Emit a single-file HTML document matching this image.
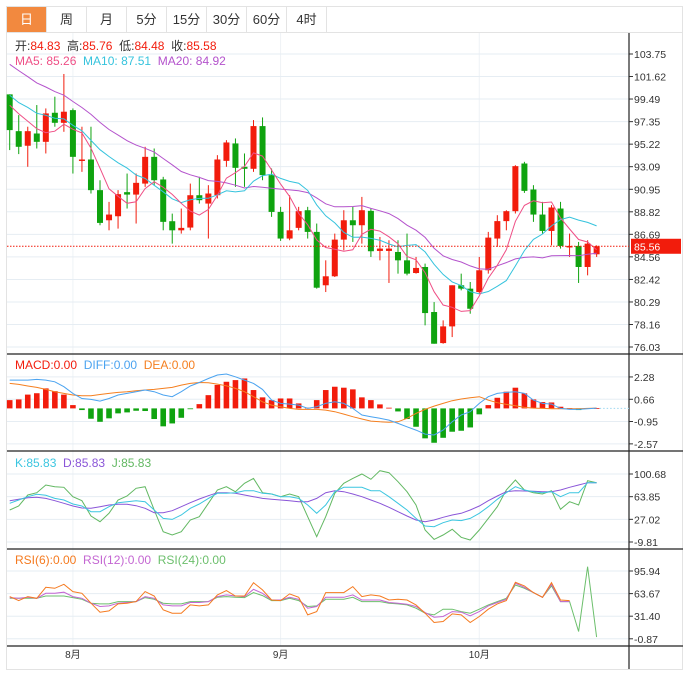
<!DOCTYPE html>
<html><head><meta charset="utf-8">
<style>
body{margin:0;background:#fff;width:689px;height:682px;overflow:hidden;font-family:"Liberation Sans","Noto Sans CJK SC",sans-serif;}
#tabs{position:absolute;left:6px;top:6px;height:26px;width:677px;border:1px solid #e3e3e3;border-bottom:none;box-sizing:border-box;display:flex;}
.tab{width:40px;height:26px;line-height:26px;text-align:center;font-size:13px;color:#333;border-right:1px solid #e3e3e3;box-sizing:border-box;}
.tab.on{background:#f2893f;color:#fff;}
svg{position:absolute;left:0;top:0;}
</style></head><body>
<div id="tabs">
<div class="tab on">日</div>
<div class="tab">周</div>
<div class="tab">月</div>
<div class="tab">5分</div>
<div class="tab">15分</div>
<div class="tab">30分</div>
<div class="tab">60分</div>
<div class="tab">4时</div>
</div>
<svg id="c" width="689" height="682"></svg>
<script>
const priorCloses=[107,108,107,106,106,105,106,105,104,103,102,101,101,100,100,99,100,99,100];
const opens=[99.93,96.45,95.07,96.23,95.44,98.19,97.24,98.44,93.64,93.77,90.87,88.02,88.40,90.68,90.45,91.49,94.02,91.88,87.93,87.07,87.33,90.39,89.60,90.39,93.64,95.29,93.08,92.89,96.93,92.29,88.81,86.29,87.30,88.97,86.92,81.87,82.72,86.19,88.02,87.55,88.91,85.12,85.12,85.02,84.23,83.03,83.60,79.34,76.40,77.98,81.87,81.55,81.23,83.29,86.29,87.94,88.88,93.39,90.93,88.56,87.01,89.13,85.50,85.59,83.60,84.80];
const closes=[96.55,94.97,96.45,95.44,98.13,97.24,98.29,94.02,93.77,90.87,87.77,88.56,90.49,90.45,91.56,94.02,91.81,87.87,87.07,87.30,90.39,89.92,90.55,93.77,95.38,92.98,92.89,96.93,92.29,88.81,86.29,87.07,88.88,86.92,81.64,82.72,86.19,88.02,87.55,88.97,85.09,85.34,85.34,84.23,82.97,83.51,79.24,76.34,77.98,81.87,81.55,79.65,83.29,86.38,87.94,88.88,93.14,90.80,88.56,87.01,89.23,85.59,85.59,83.60,85.81,85.56];
const highs=[99.93,97.97,96.87,98.92,98.60,99.71,101.86,98.60,96.87,96.87,91.81,89.76,90.87,92.44,92.44,94.97,94.81,92.13,88.65,89.13,91.49,92.13,91.34,94.18,95.60,95.76,94.34,97.50,97.75,92.92,89.29,90.39,89.29,89.29,87.71,84.23,86.76,88.97,89.29,90.23,89.13,86.44,86.13,86.13,86.76,84.55,83.92,80.28,78.55,81.87,82.97,82.18,84.55,86.92,88.50,88.97,93.23,93.55,91.34,89.76,89.45,89.76,86.76,85.97,86.13,85.65];
const lows=[94.66,94.28,93.08,94.81,94.34,96.87,96.39,92.44,92.60,90.55,87.55,87.07,87.23,89.13,87.71,91.18,91.34,87.07,85.81,86.76,87.07,89.60,86.29,90.08,93.08,91.18,91.18,92.60,91.81,88.34,86.07,86.13,87.07,86.29,81.55,81.23,82.65,85.18,85.97,85.81,84.55,84.23,82.09,82.97,82.81,82.97,78.08,76.34,76.34,76.97,81.39,79.18,81.07,82.97,85.50,87.07,88.66,90.61,87.87,86.76,85.65,85.34,84.55,82.09,82.81,84.55];
const priceTicks=[103.75,101.62,99.49,97.35,95.22,93.09,90.95,88.82,86.69,84.56,82.42,80.29,78.16,76.03];
const macdHist=[0.6,0.65,1.0,1.1,1.45,1.25,1.0,0.24,-0.12,-0.75,-0.97,-0.72,-0.36,-0.29,-0.17,-0.19,-0.77,-1.3,-1.09,-0.68,-0.05,0.31,0.96,1.7,1.93,2.05,2.17,1.33,0.8,0.6,0.72,0.72,0.36,0.05,0.6,1.33,1.57,1.5,1.38,0.8,0.6,0.29,0.05,-0.22,-0.77,-1.33,-2.17,-2.49,-2.13,-1.69,-1.62,-1.38,-0.43,0.24,0.77,1.21,1.5,1.09,0.65,0.46,0.43,0.12,0.02,-0.12,0.02,0.02];
const diffLine=[2.05,2.05,2.05,2.10,2.05,1.93,1.57,1.09,0.72,0.65,0.53,0.72,0.97,1.09,1.21,1.33,1.21,0.97,0.85,1.21,1.62,1.88,2.17,2.42,2.49,2.29,2.05,1.81,1.38,0.6,0.36,0.31,0.24,0,0.12,0.36,0.48,0.36,0,-0.48,-0.6,-0.72,-0.85,-1.09,-1.33,-1.57,-1.86,-1.93,-1.57,-0.97,-0.48,-0.24,0.36,0.85,1.09,1.16,1.21,1.09,0.6,0.36,0.31,0,-0.07,-0.07,-0.02,0.02];
const deaLine=[1.81,1.74,1.62,1.52,1.38,1.21,1.09,0.97,0.92,0.92,1.01,1.09,1.16,1.21,1.28,1.33,1.38,1.45,1.52,1.69,1.81,1.88,1.86,1.76,1.64,1.45,1.21,0.85,0.48,0.24,0.12,0,-0.07,-0.07,-0.07,-0.12,-0.24,-0.41,-0.6,-0.77,-0.92,-0.97,-1.01,-0.97,-0.72,-0.36,-0.07,0.17,0.36,0.56,0.68,0.77,0.85,0.6,0.41,0.29,0.19,0.07,0.02,0,-0.02,-0.02,-0.02,-0.02,0,0.02];
const macdTicks=[2.28,0.66,-0.95,-2.57];
const kLine=[53.0,58.4,63.8,67.7,66.0,61.1,58.4,51.9,48.7,39.5,39.5,47.6,54.1,55.7,57.3,55.7,42.2,28.6,27.0,34.1,44.9,51.9,61.1,69.3,69.3,70.3,73.6,73.6,69.3,68.2,63.8,63.8,61.1,50.3,36.8,50.3,72.0,79.0,79.0,79.0,73.6,73.6,63.8,53.0,42.2,28.6,16.2,15.1,21.6,25.9,24.9,28.6,36.8,47.6,59.5,70.3,80.1,74.7,72.0,70.3,72.0,63.8,70.3,70.3,86.6,86.6];
const dLine=[57.3,59.5,62.2,62.8,61.1,57.3,53.0,48.7,45.4,44.9,47.6,50.3,51.4,51.4,49.2,44.9,37.8,37.8,41.1,47.6,54.1,60.0,65.5,70.3,70.3,69.3,66.6,63.8,61.1,59.5,58.4,57.3,55.7,55.7,61.1,70.3,73.6,72.0,68.2,63.8,58.4,53.0,46.5,39.5,32.4,25.9,23.2,25.9,30.3,34.1,36.8,42.2,48.7,57.3,65.0,72.0,73.6,73.1,72.5,72.0,72.0,74.7,79.0,82.8,86.6,86.6];
const jLine=[42.2,48.7,66.6,70.3,82.8,80.1,79.0,63.8,57.3,32.4,23.2,36.8,58.4,65.0,77.4,80.1,42.2,7.0,1.6,7.0,25.9,31.3,53.0,74.7,80.1,72.0,85.5,93.6,70.3,68.2,63.8,68.2,63.8,31.3,-1.2,31.3,69.3,85.5,93.6,100.7,92.0,106.1,102.8,88.2,72.0,50.3,9.7,-5.5,1.6,10.8,-2.2,-6.6,9.7,28.6,47.6,74.7,91.0,74.7,70.3,68.2,73.6,43.3,55.7,50.3,89.8,86.6];
const kdjTicks=[100.68,63.85,27.02,-9.81];
const rsi6=[59.4,53.7,59.4,57.0,72.7,71.3,77.0,66.5,64.1,49.9,37.1,39.0,49.0,49.9,52.3,66.5,60.3,40.4,35.7,35.7,47.5,46.1,47.5,61.8,67.9,60.3,60.3,79.3,68.9,54.6,53.7,63.2,58.4,33.3,38.0,65.1,65.1,65.1,73.6,59.4,61.8,60.3,54.6,55.6,54.6,47.5,35.7,22.4,23.8,34.7,33.3,22.4,30.9,41.4,49.0,53.7,79.8,74.6,65.1,58.4,79.3,54.6,53.7,null,null,null];
const rsi12=[58.0,57.0,58.4,57.0,64.1,64.1,65.6,59.4,57.0,49.9,45.2,46.1,49.9,50.9,52.3,59.4,57.0,47.5,46.1,46.1,50.9,50.9,52.3,59.4,61.8,60.3,59.4,69.8,64.1,54.6,54.6,58.4,55.6,42.8,45.2,58.4,58.4,58.4,61.8,54.6,54.6,54.6,50.9,49.9,48.5,45.2,36.6,30.0,30.9,38.0,37.1,31.9,38.0,46.1,50.9,55.6,78.4,72.7,65.1,58.4,77.0,52.3,52.3,null,null,null];
const rsi24=[57.0,57.0,57.0,57.0,60.3,60.3,60.3,58.0,55.6,49.9,49.0,49.0,52.3,52.3,52.3,58.0,55.6,49.9,49.0,49.0,52.3,52.3,52.3,58.4,59.4,58.4,58.0,65.1,60.8,53.7,53.7,57.0,53.7,45.2,46.1,55.6,55.6,55.6,58.4,52.3,52.3,52.3,49.9,49.0,47.5,42.8,35.7,33.3,41.4,41.4,38.0,35.7,41.4,47.5,52.3,57.0,76.0,71.3,65.1,58.4,74.6,52.3,52.3,9.6,102.1,1.5];
const rsiTicks=[95.94,63.67,31.40,-0.87];
const monthLabels=["8月","9月","10月"];
const monthIdx=[7,30,52];

const NS="http://www.w3.org/2000/svg";
const svg=document.getElementById('c');
function mk(tag,attrs,parent){const e=document.createElementNS(NS,tag);for(const k in attrs)e.setAttribute(k,attrs[k]);(parent||svg).appendChild(e);return e;}
const X0=9.7,DX=9.03,L=7,R=629;
const xOf=i=>X0+i*DX;
const yP=v=>54+(103.75-v)*10.57;
const yM=v=>408.4-v*13.8;
const yK=v=>474+(100.68-v)*0.6155;
const yR=v=>571+(95.94-v)*0.7003;

let fr=mk('rect',{x:6.5,y:32.5,width:676,height:637,fill:'none',stroke:'#e3e3e3'});

monthIdx.forEach((mi,k)=>{
  let g=mk('line',{x1:xOf(mi),x2:xOf(mi),y1:33,y2:646,stroke:'#eef2f6'});
  
  let t=mk('text',{x:xOf(mi),y:658,'font-size':10,fill:'#333','text-anchor':'middle'});
  t.textContent=monthLabels[k];
  
});
function ticks(arr,yf,name){
  arr.forEach(v=>{
    let g=mk('line',{x1:L,x2:R,y1:yf(v),y2:yf(v),stroke:'#e6edf3'});
    
    mk('line',{x1:R,x2:R+4,y1:yf(v),y2:yf(v),stroke:'#333'});
    let t=mk('text',{x:634,y:yf(v)+4,'font-size':10.5,fill:'#333'});
    t.textContent=v.toFixed(2);
    
  });
}
ticks(priceTicks,yP,'price');ticks(macdTicks,yM,'macd');ticks(kdjTicks,yK,'kdj');ticks(rsiTicks,yR,'rsi');
[354,451,549,646].forEach(y=>{let l=mk('line',{x1:L,x2:683,y1:y,y2:y,stroke:'#222','stroke-width':1.2});
});
let ax=mk('line',{x1:R,x2:R,y1:33,y2:669,stroke:'#222','stroke-width':1.2});


function poly(arr,yf,color,name,w){
  let d='';arr.forEach((v,i)=>{if(v===null)return;d+=(d?'L':'M')+xOf(i).toFixed(1)+','+yf(v).toFixed(1);});
  let p=mk('path',{d:d,fill:'none',stroke:color,'stroke-width':w||1});
  
}
const allCloses=priorCloses.concat(closes);
function ma(n){const off=priorCloses.length;return closes.map((c,i)=>{let s=0,k=0;const e=i+off;for(let j=Math.max(0,e-n+1);j<=e;j++){s+=allCloses[j];k++;}return s/k;});}
const RED='#f21c0c',GRN='#0fa30f';
opens.forEach((o,i)=>{
  const c=closes[i],up=c>=o,col=up?RED:GRN,x=xOf(i);
  let w=mk('line',{x1:x,x2:x,y1:yP(highs[i]),y2:yP(lows[i]),stroke:col});
  
  const t=yP(Math.max(o,c)),b=yP(Math.min(o,c));
  let r=mk('rect',{x:x-3,y:t,width:6,height:Math.max(1.5,b-t),fill:col});
  
});
poly(ma(20),yP,'#b453cc','ma20-line');
poly(ma(10),yP,'#35c3dd','ma10-line');
poly(ma(5),yP,'#ef4f86','ma5-line');
const last=closes[closes.length-1];
let lp=mk('line',{x1:L,x2:R,y1:yP(last),y2:yP(last),stroke:'#f21c0c','stroke-dasharray':'1.5,1.5'});

let lb=mk('rect',{x:631,y:yP(last)-7.5,width:50,height:15,fill:'#f21c0c'});

let lt=mk('text',{x:634,y:yP(last)+4,'font-size':10.5,fill:'#fff'});lt.textContent=last.toFixed(2);


macdHist.forEach((v,i)=>{
  const y0=yM(0),y1=yM(v);
  let r=mk('rect',{x:xOf(i)-2.8,y:Math.min(y0,y1),width:5.6,height:Math.max(0.8,Math.abs(y1-y0)),fill:v>=0?RED:GRN});
  
});
mk('line',{x1:xOf(65)+3,x2:R,y1:yM(0),y2:yM(0),stroke:'#9fd8f0','stroke-dasharray':'1.5,2'});
poly(deaLine,yM,'#f57f1f','dea-line');
poly(diffLine,yM,'#4aa3f0','diff-line');
poly(jLine,yK,'#62b862','kdj-j-line');
poly(dLine,yK,'#8a55d8','kdj-d-line');
poly(kLine,yK,'#3cc6e0','kdj-k-line');
poly(rsi24,yR,'#6cbf6c','rsi24-line');
poly(rsi12,yR,'#c466d2','rsi12-line');
poly(rsi6,yR,'#f57a1f','rsi6-line');

function legend(y,items,name){
  let t=mk('text',{x:15,y:y,'font-size':12});
  
  items.forEach(([s,c])=>{let ts=mk('tspan',{fill:c},t);ts.textContent=s;});
}
legend(50,[['开:','#333'],['84.83  ','#f21c0c'],['高:','#333'],['85.76  ','#f21c0c'],['低:','#333'],['84.48  ','#f21c0c'],['收:','#333'],['85.58','#f21c0c']],'ohlc-legend');
legend(65,[['MA5: 85.26  ','#ef4f86'],['MA10: 87.51  ','#35c3dd'],['MA20: 84.92','#b453cc']],'ma-legend');
legend(369,[['MACD:0.00  ','#f21c0c'],['DIFF:0.00  ','#4aa3f0'],['DEA:0.00','#f57f1f']],'macd-legend');
legend(467,[['K:85.83  ','#3cc6e0'],['D:85.83  ','#8a55d8'],['J:85.83','#62b862']],'kdj-legend');
legend(564,[['RSI(6):0.00  ','#f57a1f'],['RSI(12):0.00  ','#c466d2'],['RSI(24):0.00','#6cbf6c']],'rsi-legend');
svg.querySelectorAll('text').forEach(s=>s.style.whiteSpace='pre');
</script>
</body></html>
